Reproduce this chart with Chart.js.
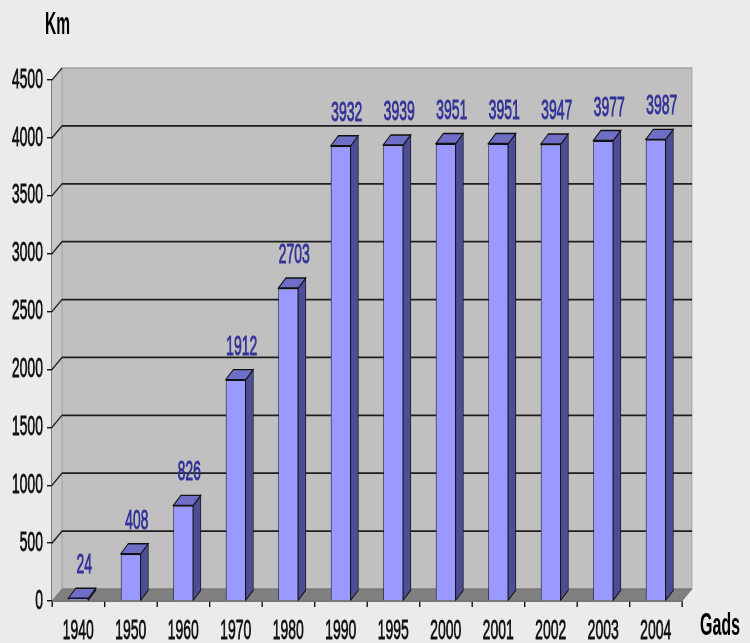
<!DOCTYPE html>
<html>
<head>
<meta charset="utf-8">
<script src="https://cdn.jsdelivr.net/npm/chart.js@4/dist/chart.umd.min.js"></script>
<style>
    html, body { margin: 0; padding: 0; background: #ebebeb; overflow: hidden; }
    #wrap { transform-origin: 0 0; }
</style>
</head>
<body>
<div id="wrap"><canvas id="roadChart" height="643"></canvas></div>
<script>
// Road length by year
const years = ['1940', '1950', '1960', '1970', '1980', '1990', '1995', '2000', '2001', '2002', '2003', '2004'];
const lengthKm = [24, 408, 826, 1912, 2703, 3932, 3939, 3951, 3951, 3947, 3977, 3987];
const yMax = 4500;
const yStep = 500;

// The whole drawing is squeezed horizontally, so the canvas is wider than the page
const S = 0.5;
const W = Math.round(750 / S);
const FONT = "'Liberation Sans', Arial, sans-serif";

// 3D depth of walls and columns (screen px)
const WALL_DX = 10, WALL_DY = -12;
const BAR_DX = 7.5, BAR_DY = -10;

const canvas = document.getElementById('roadChart');
canvas.width = W;
document.getElementById('wrap').style.transform = `scaleX(${S})`;

function poly(ctx, pts, fill, stroke, lw) {
    ctx.beginPath();
    ctx.moveTo(pts[0][0], pts[0][1]);
    for (let i = 1; i < pts.length; i++) ctx.lineTo(pts[i][0], pts[i][1]);
    ctx.closePath();
    if (fill) { ctx.fillStyle = fill; ctx.fill(); }
    if (stroke) { ctx.strokeStyle = stroke; ctx.lineWidth = lw || 1; ctx.stroke(); }
}

const walls3d = {
    id: 'walls3d',
    beforeDatasetsDraw(chart) {
        const { ctx, chartArea: a, scales: { y } } = chart;
        const dx = WALL_DX / S, dy = WALL_DY;
        ctx.save();
        // left side wall
        poly(ctx, [[a.left, a.top], [a.left + dx, a.top + dy], [a.left + dx, a.bottom + dy], [a.left, a.bottom]], '#c6c6c6');
        // back wall
        poly(ctx, [[a.left + dx, a.top + dy], [a.right + dx, a.top + dy], [a.right + dx, a.bottom + dy], [a.left + dx, a.bottom + dy]], '#c0c0c0', '#8a8a8a', 1.2);
        // floor
        poly(ctx, [[a.left, a.bottom], [a.left + dx, a.bottom + dy], [a.right + dx, a.bottom + dy], [a.right, a.bottom]], '#808080', '#707070', 1);
        // gridlines on the back wall and side wall
        for (let v = yStep; v < yMax; v += yStep) {
            const py = y.getPixelForValue(v);
            ctx.beginPath();
            ctx.moveTo(a.left, py);
            ctx.lineTo(a.left + dx, py + dy);
            ctx.lineTo(a.right + dx, py + dy);
            ctx.strokeStyle = '#1e1e1e';
            ctx.lineWidth = 1.8;
            ctx.stroke();
        }
        // top edge of side wall
        ctx.beginPath();
        ctx.moveTo(a.left, a.top);
        ctx.lineTo(a.left + dx, a.top + dy);
        ctx.strokeStyle = '#1e1e1e';
        ctx.lineWidth = 1.5;
        ctx.stroke();
        ctx.restore();
    },
    afterDatasetsDraw(chart) {
        const { ctx } = chart;
        const dx = BAR_DX / S, dy = BAR_DY;
        ctx.save();
        chart.getDatasetMeta(0).data.forEach(bar => {
            const { x, y, base, width } = bar.getProps(['x', 'y', 'base', 'width'], true);
            const l = x - width / 2, r = x + width / 2;
            // side face
            poly(ctx, [[r, y], [r + dx, y + dy], [r + dx, base + dy], [r, base]], '#4d4d96', '#111', 1.4);
            // top face
            poly(ctx, [[l, y], [l + dx, y + dy], [r + dx, y + dy], [r, y]], '#6e6ec6', '#111', 1.4);
        });
        ctx.restore();
    },
    afterDraw(chart) {
        const { ctx } = chart;
        ctx.save();
        // value labels above columns
        ctx.font = `28px ${FONT}`;
        ctx.fillStyle = '#34349a';
        ctx.strokeStyle = '#34349a';
        ctx.lineWidth = 1;
        ctx.textAlign = 'center';
        ctx.textBaseline = 'alphabetic';
        chart.getDatasetMeta(0).data.forEach((bar, i) => {
            const tx = bar.x + 6 / S, ty = bar.y - 25;
            ctx.fillText(String(lengthKm[i]), tx, ty);
            ctx.strokeText(String(lengthKm[i]), tx, ty);
        });
        // axis titles
        ctx.fillStyle = '#000';
        ctx.textAlign = 'left';
        ctx.font = `bold 31px ${FONT}`;
        ctx.fillText('Km', 45 / S, 34);
        ctx.font = `bold 32px ${FONT}`;
        ctx.fillText('Gads', 700 / S, 635);
        ctx.restore();
    }
};

new Chart(canvas, {
    type: 'bar',
    data: {
        labels: years,
        datasets: [{
            data: lengthKm,
            backgroundColor: '#9999ff',
            borderColor: '#111',
            borderWidth: 1.4,
            barPercentage: 0.38,
            categoryPercentage: 1
        }]
    },
    options: {
        responsive: false,
        animation: false,
        devicePixelRatio: 1,
        layout: {
            padding: { top: 80, right: W - 682 / S, left: 0, bottom: 0 }
        },
        plugins: {
            legend: { display: false },
            tooltip: { enabled: false }
        },
        scales: {
            x: {
                grid: {
                    drawOnChartArea: false,
                    offset: true,
                    tickLength: 6,
                    color: '#111',
                    lineWidth: 1.4 / S
                },
                border: { color: '#111', width: 1.6 },
                ticks: {
                    color: '#111',
                    textStrokeColor: '#111',
                    textStrokeWidth: 0.8,
                    padding: 7,
                    maxRotation: 0,
                    font: { family: FONT, size: 28 }
                },
                afterFit: s => { s.height = 42; }
            },
            y: {
                min: 0,
                max: yMax,
                grid: {
                    drawOnChartArea: false,
                    tickLength: 5 / S,
                    color: '#111',
                    lineWidth: 1.4
                },
                border: { color: '#111', width: 1.5 / S },
                ticks: {
                    stepSize: yStep,
                    color: '#111',
                    textStrokeColor: '#111',
                    textStrokeWidth: 0.8,
                    padding: 4 / S,
                    font: { family: FONT, size: 28 },
                    callback: v => String(v)
                },
                afterFit: s => { s.width = 52 / S; }
            }
        }
    },
    plugins: [walls3d]
});
</script>
</body>
</html>
